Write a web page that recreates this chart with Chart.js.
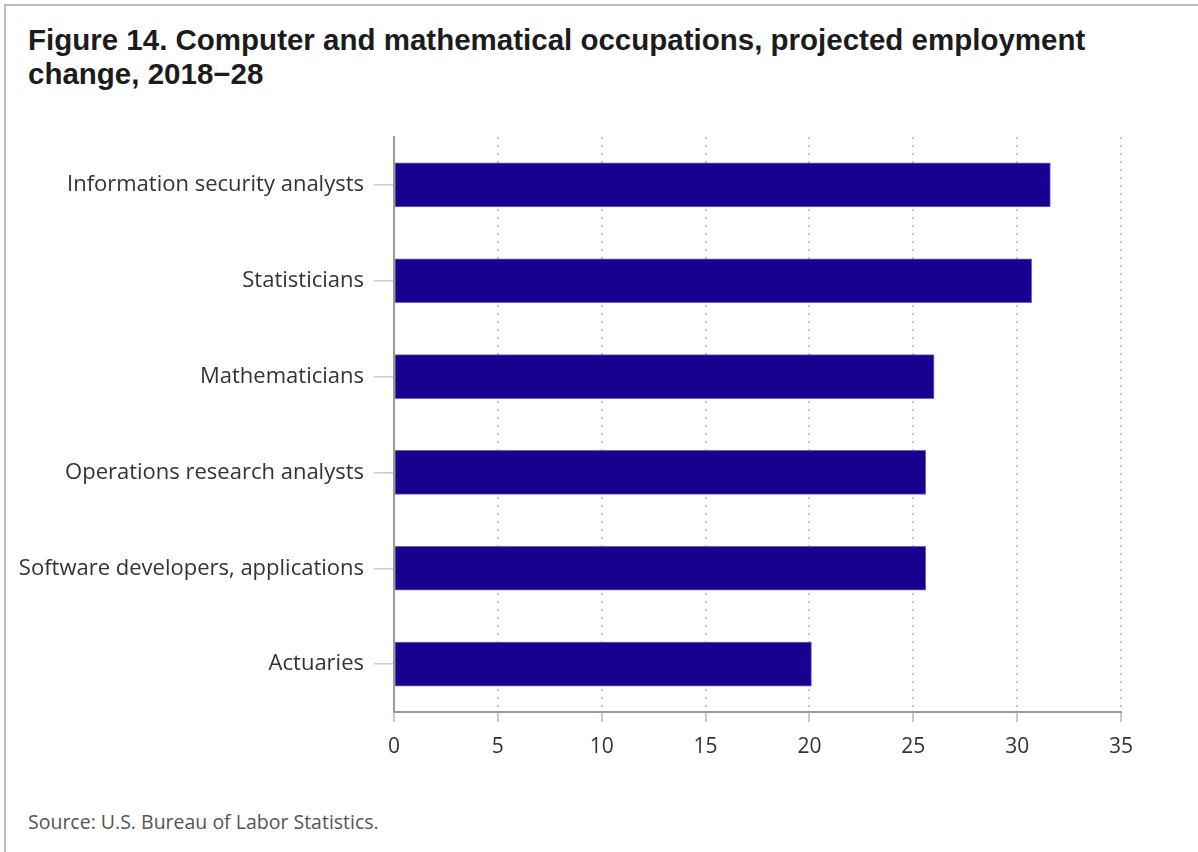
<!DOCTYPE html>
<html>
<head>
<meta charset="utf-8">
<script src="https://cdn.jsdelivr.net/npm/chart.js@4/dist/chart.umd.min.js"></script>
<style>
  html, body { margin: 0; padding: 0; background: #fff; }
  body { width: 1198px; height: 852px; position: relative; overflow: hidden; }
  .frame {
    position: absolute; left: 4px; top: 4px; width: 1300px; height: 900px;
    border-left: 2px solid #b3bbd6; border-top: 2px solid #b3bbd6;
  }
  h1 {
    position: absolute; left: 28px; top: 23px; margin: 0;
    font: bold 29.5px/34px "Liberation Sans", Arial, sans-serif; color: #1c1c1c;
  }
  .source {
    position: absolute; left: 28px; top: 808px;
    font: 19.5px "Open Sans", sans-serif; color: #555;
  }
  .wrap { position: absolute; left: 0; top: 120px; width: 1198px; height: 660px; }
</style>
</head>
<body>
<div class="frame"></div>
<h1>Figure 14. Computer and mathematical occupations, projected employment<br>change, 2018&#8722;28</h1>
<div class="wrap"><canvas id="chart"></canvas></div>
<div class="source">Source: U.S. Bureau of Labor Statistics.</div>
<script>
const occupations = [
  "Information security analysts",
  "Statisticians",
  "Mathematicians",
  "Operations research analysts",
  "Software developers, applications",
  "Actuaries"
];
const percentChange = [31.6, 30.7, 26.0, 25.6, 25.6, 20.1];
const xTicks = [0, 5, 10, 15, 20, 25, 30, 35];

const ctx = document.getElementById('chart');
new Chart(ctx, {
  type: 'bar',
  data: {
    labels: occupations,
    datasets: [{
      data: percentChange,
      backgroundColor: '#1a008e',
      borderColor: '#6f66c4',
      borderWidth: 1,
      borderSkipped: false,
      barThickness: 44
    }]
  },
  options: {
    indexAxis: 'y',
    responsive: true,
    maintainAspectRatio: false,
    animation: false,
    layout: { padding: { top: 17, right: 77, bottom: 8, left: 0 } },
    plugins: { legend: { display: false }, tooltip: { enabled: false } },
    scales: {
      x: {
        min: 0,
        max: 35,
        afterBuildTicks: axis => { axis.ticks = xTicks.map(v => ({ value: v })); },
        afterFit: axis => { axis.height = 60; },
        // in v4 border.dash styles the grid lines, the axis line stays solid
        border: { display: true, color: '#9a9a9a', width: 2, dash: [2, 6] },
        grid: {
          color: ctx => ctx.tick && ctx.tick.value === 0 ? 'rgba(0,0,0,0)' : '#c4c4c4',
          lineWidth: 2,
          tickBorderDash: [],
          tickColor: '#c3c9de',
          tickLength: 10
        },
        ticks: {
          padding: 12,
          color: '#333',
          font: { family: '"Open Sans", sans-serif', size: 21 }
        }
      },
      y: {
        afterFit: axis => {
          axis.width = 394;
          axis.paddingTop = 0;
          axis.paddingBottom = 0;
        },
        border: { display: true, color: '#9a9a9a', width: 2 },
        grid: {
          offset: false,
          drawOnChartArea: false,
          tickColor: '#c3c9de',
          tickLength: 20,
          lineWidth: 1.5
        },
        ticks: {
          padding: 10,
          color: '#333',
          font: { family: '"Open Sans", sans-serif', size: 22 }
        }
      }
    }
  }
});
</script>
</body>
</html>
